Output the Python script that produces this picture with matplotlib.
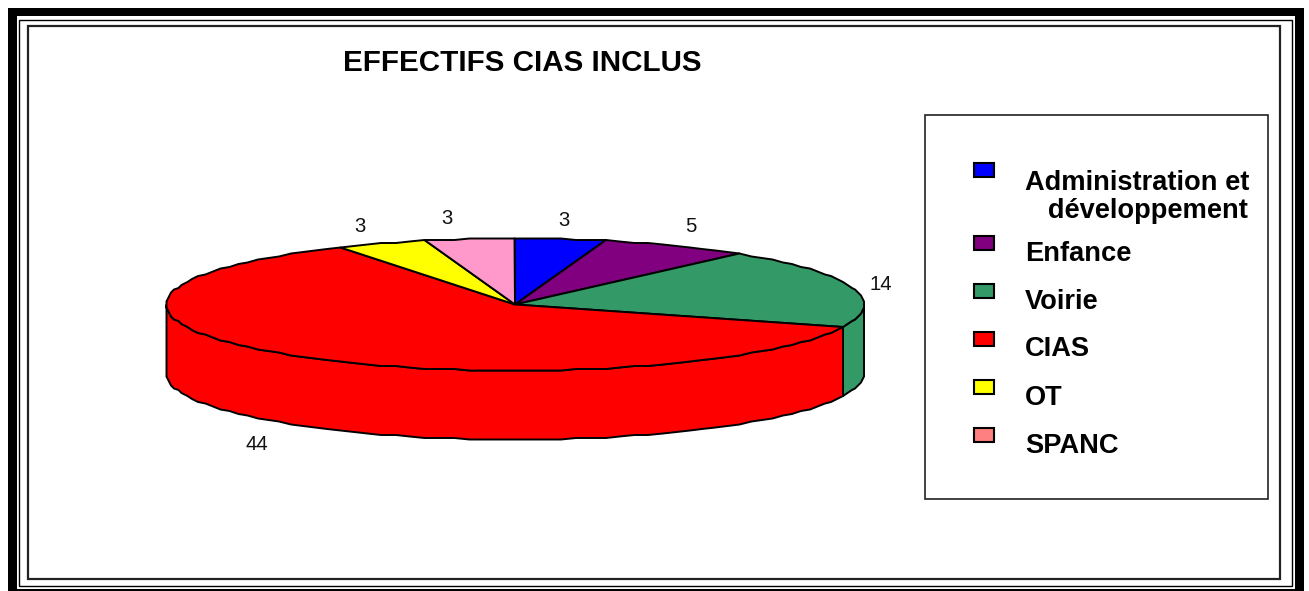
import numpy as np
import matplotlib
matplotlib.use('Agg')
import matplotlib.pyplot as plt
from matplotlib.patches import Polygon, Rectangle

plt.rcParams['font.family'] = ['Liberation Sans', 'DejaVu Sans']

# Data
categories = ['Administration et\n   développement', 'Enfance', 'Voirie', 'CIAS', 'OT', 'SPANC']
values = [3, 5, 14, 44, 3, 3]
pie_colors = ['#0000FF', '#800080', '#339966', '#FF0000', '#FFFF00', '#FF99CC']
legend_colors = ['#0000FF', '#800080', '#339966', '#FF0000', '#FFFF00', '#FF8080']

# Layout, in pixels of the picture
cx, cy, rx, ry, depth = 515, 304.5, 349, 66, 69
label_pos = [(564, 220), (691, 227), (881, 284), (257, 445), (447, 219), (360, 227)]
swatch_y = [169.5, 243, 291, 339, 387, 434.5]
text_y = [197, 254, 302, 349, 398, 446]


def rim(a0, a1, dy=0):
    # angles in degrees, clockwise from the top of the pie
    # the rim is rounded to a small grid, the original has the same slightly wobbly edge
    t = np.radians(np.linspace(a0, a1, max(int((a1 - a0) / 2.5), 2) + 1))
    x = np.round((cx + rx * np.sin(t)) / 1.5) * 1.5
    y = np.round((cy - ry * np.cos(t)) / 1.5) * 1.5 + dy
    return np.column_stack([x, y])


fig = plt.figure(figsize=(13.09, 5.91), dpi=100)
ax = fig.add_axes([0, 0, 1, 1])
ax.set_xlim(0, 1309)
ax.set_ylim(591, 0)
ax.axis('off')

# Frames
ax.add_patch(Rectangle((8, 8), 1296, 583, fc='black', ec='none'))
ax.add_patch(Rectangle((17, 16), 1278, 573, fc='white', ec='none'))
ax.add_patch(Rectangle((19, 19.5), 1273, 566.5, fc='none', ec='black', lw=1))
ax.add_patch(Rectangle((28, 26), 1252, 553, fc='none', ec='#222222', lw=1.6))

# Pie
edges = np.cumsum([0] + values) / sum(values) * 360

# side walls: only the front half of the rim shows
for i in range(len(values)):
    a0, a1 = max(edges[i], 90), min(edges[i + 1], 270)
    if a1 > a0:
        wall = np.vstack([rim(a0, a1), rim(a0, a1, depth)[::-1]])
        ax.add_patch(Polygon(wall, closed=True, fc=pie_colors[i], ec='black', lw=1.4))

for i in range(len(values)):
    arc = rim(edges[i], edges[i + 1])
    ax.add_patch(Polygon(np.vstack([[cx, cy], arc]), closed=True,
                         fc=pie_colors[i], ec='black', lw=1.4, joinstyle='round'))

for (x, y), v in zip(label_pos, values):
    ax.text(x, y, str(v), fontsize=14.6, ha='center', va='center', color='#111111')

ax.text(522, 63, 'EFFECTIFS CIAS INCLUS', fontsize=21.3, fontweight='bold',
        ha='center', va='center')

# Legend
ax.add_patch(Rectangle((925, 115), 343, 384, fc='white', ec='#222222', lw=1.2))
for name, col, sy, ty in zip(categories, legend_colors, swatch_y, text_y):
    ax.add_patch(Rectangle((974, sy - 7), 20, 14, fc=col, ec='black', lw=1.5))
    ax.text(1025, ty, name, fontsize=19.6, fontweight='bold', ha='left', va='center',
            linespacing=1.12)

plt.savefig('out.png', dpi=100)
